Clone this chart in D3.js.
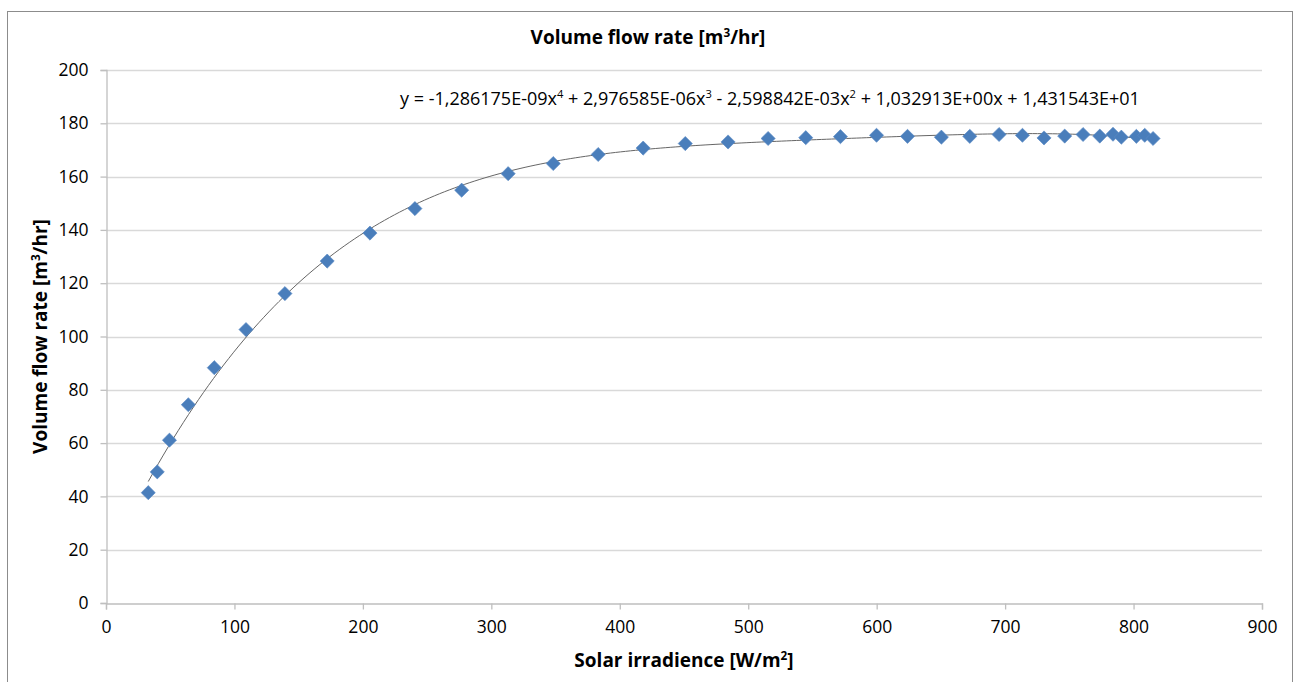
<!DOCTYPE html>
<html>
<head>
<meta charset="utf-8">
<script src="https://cdn.jsdelivr.net/npm/d3@7"></script>
<style>
  html, body { margin: 0; padding: 0; background: #fff; }
  svg { display: block; }
  text { font-family: "Open Sans", "Liberation Sans", sans-serif; fill: #000; }
</style>
</head>
<body>
<svg id="chart" width="1298" height="682"></svg>
<script>
// ---- data ----
const irradiance = [32.9, 39.9, 49.4, 64.1, 84.3, 109.0, 139.3, 172.2, 205.5, 240.5,
  276.9, 313.1, 348.2, 383.2, 418.2, 451.0, 484.3, 515.5, 544.8, 571.8,
  599.9, 624.0, 650.4, 672.5, 695.3, 713.5, 730.3, 746.4, 760.7, 773.7,
  784.0, 790.5, 802.2, 808.7, 815.2];
const flowRate = [41.4, 49.2, 61.1, 74.4, 88.3, 102.6, 116.1, 128.3, 138.8, 148.0,
  154.9, 161.1, 164.9, 168.3, 170.7, 172.4, 173.0, 174.3, 174.6, 175.0,
  175.5, 175.1, 174.8, 175.1, 175.8, 175.5, 174.5, 175.2, 175.8, 175.2,
  175.9, 174.8, 175.1, 175.5, 174.3];
// trendline coefficients: x^4, x^3, x^2, x, const
const trendCoef = [-1.286175e-09, 2.976585e-06, -2.598842e-03, 1.032913e+00, 1.431543e+01];
const xTicks = [0, 100, 200, 300, 400, 500, 600, 700, 800, 900];
const yTicks = [0, 20, 40, 60, 80, 100, 120, 140, 160, 180, 200];
// text pieces: [text, isSuperscript]
const chartTitle = [["Volume flow rate [m", 0], ["3", 1], ["/hr]", 0]];
const xTitle = [["Solar irradience [W/m", 0], ["2", 1], ["]", 0]];
const yTitle = [["Volume flow rate [m", 0], ["3", 1], ["/hr]", 0]];
const equation = [
  ["y = -1,286175E-09x", 0], ["4", 1], [" + 2,976585E-06x", 0], ["3", 1],
  [" - 2,598842E-03x", 0], ["2", 1], [" + 1,032913E+00x + 1,431543E+01", 0]
];

// ---- layout ----
const svg = d3.select("#chart");
const m = { left: 106, right: 1262, top: 70, bottom: 603 };
const x = d3.scaleLinear().domain([0, 900]).range([m.left, m.right]);
const y = d3.scaleLinear().domain([0, 200]).range([m.bottom, m.top]);

// outer frame
svg.append("rect").attr("x", 7.5).attr("y", 11.5).attr("width", 1285).attr("height", 690)
  .attr("fill", "none").attr("stroke", "#8c8c8c").attr("stroke-width", 1);

// gridlines
svg.append("g").selectAll("line").data(yTicks.filter(d => d > 0)).join("line")
  .attr("x1", m.left).attr("x2", m.right)
  .attr("y1", d => Math.round(y(d)) + 0.5).attr("y2", d => Math.round(y(d)) + 0.5)
  .attr("stroke", "#d9d9d9").attr("stroke-width", 1.3);

// axes
const yAxis = d3.axisLeft(y).tickValues(yTicks).tickSize(6).tickPadding(12).tickFormat(d3.format("d"));
const xAxis = d3.axisBottom(x).tickValues(xTicks).tickSize(6).tickPadding(11).tickFormat(d3.format("d"));
const gy = svg.append("g").attr("transform", `translate(${m.left + 0.5},0)`).call(yAxis);
const gx = svg.append("g").attr("transform", `translate(0,${m.bottom + 0.5})`).call(xAxis);
[gx, gy].forEach(g => {
  g.selectAll("path.domain").attr("stroke", "#bfbfbf").attr("stroke-width", 1.3);
  g.selectAll(".tick line").attr("stroke", "#bfbfbf").attr("stroke-width", 1.3);
  g.selectAll(".tick text").attr("font-size", 17.5).attr("fill", "#000")
    .attr("font-family", "'Open Sans', 'Liberation Sans', sans-serif");
});

// trendline
const [a4, a3, a2, a1, a0] = trendCoef;
const poly = v => (((a4 * v + a3) * v + a2) * v + a1) * v + a0;
const xMin = d3.min(irradiance), xMax = d3.max(irradiance);
const curvePts = d3.range(0, 201).map(i => {
  const v = xMin + (xMax - xMin) * i / 200;
  return [v, poly(v)];
});
svg.append("path").datum(curvePts)
  .attr("d", d3.line().x(d => x(d[0])).y(d => y(d[1])))
  .attr("fill", "none").attr("stroke", "#666").attr("stroke-width", 1);

// markers
const pts = irradiance.map((v, i) => [v, flowRate[i]]);
const sym = d3.symbol().type(d3.symbolSquare).size(100);
svg.append("g").selectAll("path").data(pts).join("path")
  .attr("d", sym)
  .attr("transform", d => `translate(${x(d[0])},${y(d[1])}) rotate(45)`)
  .attr("fill", "#4a7ebb").attr("stroke", "#5b8ac4").attr("stroke-width", 0.6);

// text helper with superscripts
function supText(sel, parts, size) {
  const shift = size * 0.38;
  let raised = false;
  parts.forEach(([txt, sup]) => {
    const ts = sel.append("tspan").text(txt);
    if (sup && !raised) { ts.attr("dy", -shift).attr("font-size", size * 0.62); raised = true; }
    else if (sup) { ts.attr("font-size", size * 0.62); }
    else if (raised) { ts.attr("dy", shift); raised = false; }
  });
}

// chart title
const t = svg.append("text").attr("x", 648).attr("y", 44).attr("text-anchor", "middle")
  .attr("font-size", 19).attr("font-weight", "bold");
supText(t, chartTitle, 19);

// x title
const xt = svg.append("text").attr("x", 684).attr("y", 667).attr("text-anchor", "middle")
  .attr("font-size", 19).attr("font-weight", "bold");
supText(xt, xTitle, 19);

// y title
const yt = svg.append("text").attr("transform", `translate(47,${(m.top + m.bottom) / 2}) rotate(-90)`)
  .attr("text-anchor", "middle").attr("font-size", 19).attr("font-weight", "bold");
supText(yt, yTitle, 19);

// equation
const eq = svg.append("text").attr("x", 400).attr("y", 105).attr("font-size", 18);
supText(eq, equation, 18);
</script>
</body>
</html>
